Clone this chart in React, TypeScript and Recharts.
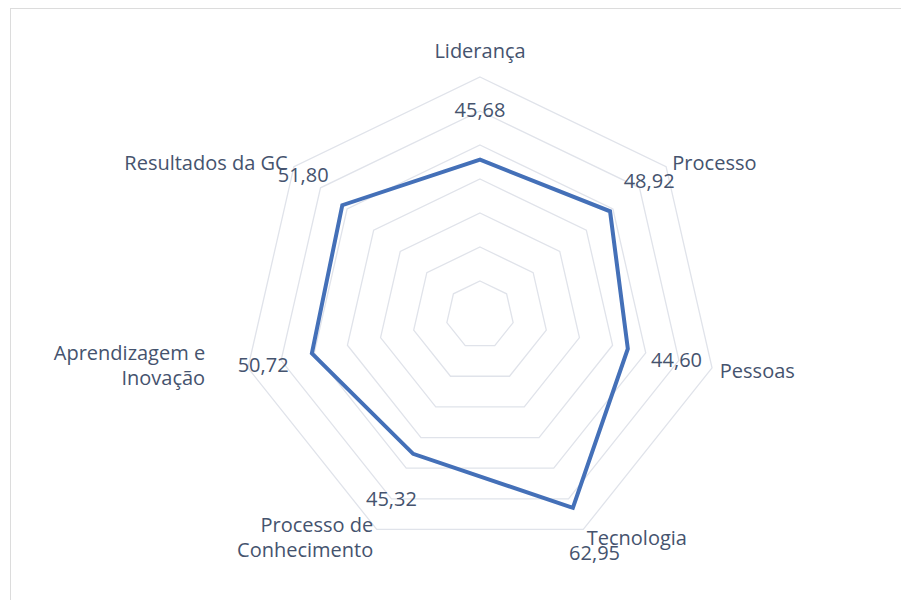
import React from 'react';
import { RadarChart, Radar, PolarGrid, PolarAngleAxis, PolarRadiusAxis } from 'recharts';

const categories = [
  'Liderança',
  'Processo',
  'Pessoas',
  'Tecnologia',
  'Processo de\nConhecimento',
  'Aprendizagem e\nInovação',
  'Resultados da GC',
];
const scores = [45.68, 48.92, 44.6, 62.95, 45.32, 50.72, 51.8];
const scaleMax = 70;
const ringCount = 8;

const data = categories.map((name, i) => ({ name, score: scores[i] }));

const CX = 480;
const CY = 315;
const R = 238;
const TEXT = '#45536e';
const FONT = '"Open Sans", sans-serif';
const LINE = '#4470b8';

// extra nudges for a couple of category labels, like the hand-placed excel ones
const labelNudge: Record<number, { dx: number; dy: number }> = {
  0: { dx: 0, dy: -19 },
  5: { dx: -35, dy: -5 },
};

const fmt = (v: number) => v.toFixed(2).replace('.', ',');

const CategoryTick = (props: any) => {
  const { x, y, textAnchor, payload, index } = props;
  const lines = String(payload.value).split('\n');
  const nudge = labelNudge[index] || { dx: 0, dy: 0 };
  const lineH = 25;
  const tx = x + nudge.dx;
  const top = y + nudge.dy - ((lines.length - 1) * lineH) / 2;
  return (
    <text
      x={tx}
      y={top}
      textAnchor={textAnchor}
      fill={TEXT}
      fontSize={20}
      fontFamily={FONT}
      dominantBaseline="central"
    >
      {lines.map((l, i) => (
        <tspan key={i} x={tx} y={top + i * lineH}>
          {l}
        </tspan>
      ))}
    </text>
  );
};

const ValueLabel = (props: any) => {
  const { cx, cy, index } = props;
  const dx = cx - CX;
  const dy = cy - CY;
  const len = Math.hypot(dx, dy) || 1;
  const off = 50;
  return (
    <text
      key={`v-${index}`}
      x={cx + (dx / len) * off}
      y={cy + (dy / len) * off}
      textAnchor="middle"
      dominantBaseline="central"
      fill={TEXT}
      fontSize={20}
      fontFamily={FONT}
    >
      {fmt(scores[index])}
    </text>
  );
};

export default function App() {
  return (
    <div style={{ position: 'absolute', left: 0, top: 0, width: 901, height: 600, background: '#fff', overflow: 'hidden' }}>
      <div
        style={{
          position: 'absolute',
          left: 10,
          top: 8,
          width: 900,
          height: 600,
          border: '1px solid #dcdcdc',
          boxSizing: 'border-box',
        }}
      />
      <div style={{ position: 'absolute', left: 0, top: 0 }}>
        <RadarChart
          width={901}
          height={600}
          cx={CX}
          cy={CY}
          outerRadius={R}
          data={data}
          margin={{ top: 0, right: 0, bottom: 0, left: 0 }}
        >
          <PolarGrid gridType="polygon" radialLines={false} stroke="#e0e3ea" strokeWidth={1.3} />
          <PolarRadiusAxis domain={[0, scaleMax]} tickCount={ringCount} tick={false} axisLine={false} />
          <PolarAngleAxis dataKey="name" tick={CategoryTick} tickLine={false} axisLine={false} />
          <Radar
            dataKey="score"
            stroke={LINE}
            strokeWidth={4}
            fill="none"
            fillOpacity={0}
            dot={ValueLabel}
            isAnimationActive={false}
          />
        </RadarChart>
      </div>
    </div>
  );
}
